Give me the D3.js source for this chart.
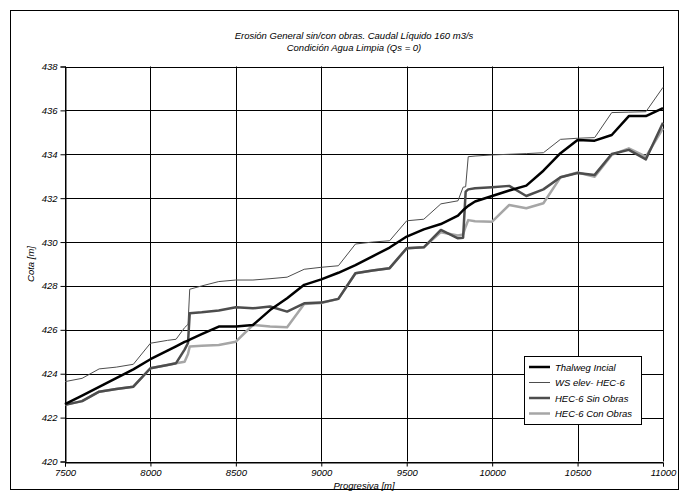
<!DOCTYPE html>
<html>
<head>
<meta charset="utf-8">
<script src="https://cdn.jsdelivr.net/npm/d3@7"></script>
<style>
  body { margin: 0; background: #fff; }
  svg text { font-family: "Liberation Sans", Arial, sans-serif; font-style: italic; fill: #000; }
</style>
</head>
<body>
<div id="chart"></div>
<script>
// stations along the river (m)
var stations = [7500, 7600, 7700, 7800, 7900, 8000, 8100, 8150, 8200, 8220, 8230, 8300, 8400, 8500, 8600, 8700, 8800, 8900, 9000,
  9100, 9200, 9300, 9400, 9500, 9600, 9700, 9800, 9830, 9845, 9860, 9900, 10000, 10100, 10200, 10300, 10400, 10500, 10600, 10700, 10800, 10900, 11000];

var thalweg = [422.62, 423.0, 423.4, 423.8, 424.2, 424.66, 425.05, 425.25, 425.45, 425.5, 425.55, 425.8, 426.15, 426.15, 426.22, 426.9, 427.44, 428.05, 428.3,
  428.6, 428.95, 429.35, 429.75, 430.25, 430.58, 430.82, 431.2, 431.45, 431.55, 431.65, 431.85, 432.1, 432.35, 432.57, 433.25, 434.05, 434.65, 434.62, 434.88, 435.74, 435.74, 436.1];

var wsElev = [423.64, 423.79, 424.22, 424.3, 424.43, 425.39, 425.52, 425.57, 426.1, 426.25, 427.85, 428.0, 428.2, 428.27, 428.27, 428.33, 428.4, 428.76, 428.85,
  428.92, 429.91, 430.0, 430.06, 430.97, 431.04, 431.74, 431.88, 432.5, 432.52, 433.89, 433.92, 433.97, 434.0, 434.03, 434.07, 434.68, 434.73, 434.76, 435.9, 435.92, 435.94, 437.05];

var sinObras = [422.58, 422.75, 423.18, 423.3, 423.41, 424.25, 424.4, 424.48, 425.1, 425.4, 426.76, 426.8, 426.88, 427.03, 426.98, 427.06, 426.83, 427.21, 427.24,
  427.41, 428.58, 428.7, 428.81, 429.72, 429.76, 430.55, 430.17, 430.2, 432.3, 432.4, 432.45, 432.5, 432.56, 432.1, 432.4, 432.95, 433.15, 433.06, 434.01, 434.2, 433.77, 435.44];

var conObras = [422.58, 422.75, 423.18, 423.3, 423.41, 424.25, 424.4, 424.48, 424.55, 424.9, 425.24, 425.27, 425.31, 425.46, 426.22, 426.15, 426.12, 427.18, 427.22,
  427.41, 428.58, 428.7, 428.81, 429.72, 429.76, 430.45, 430.3, 430.35, 430.7, 431.0, 430.95, 430.93, 431.69, 431.54, 431.77, 432.95, 433.17, 432.98, 433.97, 434.27, 433.89, 435.18];

var xTicks = [7500, 8000, 8500, 9000, 9500, 10000, 10500, 11000];
var yTicks = [420, 422, 424, 426, 428, 430, 432, 434, 436, 438];

var series = [
  { name: "Thalweg Incial", values: thalweg, color: "#000000", width: 2.5 },
  { name: "WS elev- HEC-6", values: wsElev, color: "#4d4d4d", width: 1 },
  { name: "HEC-6 Sin Obras", values: sinObras, color: "#4d4d4d", width: 2.5 },
  { name: "HEC-6 Con Obras", values: conObras, color: "#a6a6a6", width: 2.5 }
];

var width = 689, height = 500;

var svg = d3.select("#chart").append("svg")
    .attr("width", width)
    .attr("height", height);

// chart area frame
svg.append("rect")
    .attr("x", 10.5).attr("y", 10.5)
    .attr("width", 668).attr("height", 479)
    .attr("fill", "#fff")
    .attr("stroke", "#000")
    .attr("stroke-width", 1);

var x = d3.scaleLinear().domain([7500, 11000]).range([65, 663]);
var y = d3.scaleLinear().domain([420, 438]).range([461.5, 66.5]);

// grid
var grid = svg.append("g").attr("class", "grid");
grid.selectAll("line.h")
    .data(yTicks)
  .enter().append("line")
    .attr("class", "h")
    .attr("x1", x(7500)).attr("x2", x(11000))
    .attr("y1", function(d) { return Math.round(y(d)) + 0.5; })
    .attr("y2", function(d) { return Math.round(y(d)) + 0.5; })
    .attr("stroke", "#000").attr("stroke-width", 1);
grid.selectAll("line.v")
    .data(xTicks)
  .enter().append("line")
    .attr("class", "v")
    .attr("y1", y(438)).attr("y2", y(420))
    .attr("x1", function(d) { return Math.round(x(d)) + 0.5; })
    .attr("x2", function(d) { return Math.round(x(d)) + 0.5; })
    .attr("stroke", "#000").attr("stroke-width", 1);

// axes
var xAxis = d3.axisBottom(x).tickValues(xTicks).tickSize(4).tickPadding(3).tickFormat(d3.format("d"));
var yAxis = d3.axisLeft(y).tickValues(yTicks).tickSize(5).tickPadding(3).tickFormat(d3.format("d"));

var gx = svg.append("g")
    .attr("transform", "translate(0," + (Math.round(y(420)) + 0.5) + ")")
    .call(xAxis);
var gy = svg.append("g")
    .attr("transform", "translate(" + (Math.round(x(7500)) + 0.5) + ",0)")
    .call(yAxis);
[gx, gy].forEach(function(g) {
  g.select(".domain").attr("stroke", "#000");
  g.selectAll(".tick line").attr("stroke", "#000");
  g.selectAll(".tick text")
    .style("font-size", "9.5px")
    .style("font-family", "'Liberation Sans', Arial, sans-serif")
    .style("font-style", "italic");
});

// lines
var line = d3.line()
    .x(function(d, i) { return x(stations[i]); })
    .y(function(d) { return y(d); });

svg.append("g").selectAll("path")
    .data(series.slice().reverse())
  .enter().append("path")
    .attr("d", function(d) { return line(d.values); })
    .attr("fill", "none")
    .attr("stroke", function(d) { return d.color; })
    .attr("stroke-width", function(d) { return d.width; })
    .attr("stroke-linejoin", "round");

// titles
svg.append("text")
    .attr("x", 354).attr("y", 39)
    .attr("text-anchor", "middle")
    .style("font-size", "9.5px")
    .text("Erosión General sin/con obras. Caudal Líquido 160 m3/s");
svg.append("text")
    .attr("x", 354).attr("y", 51)
    .attr("text-anchor", "middle")
    .style("font-size", "9.5px")
    .text("Condición Agua Limpia (Qs = 0)");

svg.append("text")
    .attr("x", (x(7500) + x(11000)) / 2).attr("y", 489)
    .attr("text-anchor", "middle")
    .style("font-size", "9.5px")
    .text("Progresiva [m]");

svg.append("text")
    .attr("transform", "translate(34," + ((y(420) + y(438)) / 2) + ") rotate(-90)")
    .attr("text-anchor", "middle")
    .style("font-size", "9.5px")
    .text("Cota [m]");

// legend
var legend = svg.append("g").attr("transform", "translate(524,356)");
legend.append("rect")
    .attr("x", 0.5).attr("y", 0.5)
    .attr("width", 117).attr("height", 68)
    .attr("fill", "#fff")
    .attr("stroke", "#000")
    .attr("stroke-width", 1);
var items = legend.selectAll("g.item")
    .data(series)
  .enter().append("g")
    .attr("class", "item")
    .attr("transform", function(d, i) { return "translate(0," + (11 + i * 15.5) + ")"; });
items.append("line")
    .attr("x1", 5).attr("x2", 26)
    .attr("y1", 0).attr("y2", 0)
    .attr("stroke", function(d) { return d.color; })
    .attr("stroke-width", function(d) { return d.width; });
items.append("text")
    .attr("x", 31).attr("y", 3.5)
    .style("font-size", "9.5px")
    .text(function(d) { return d.name; });
</script>
</body>
</html>
